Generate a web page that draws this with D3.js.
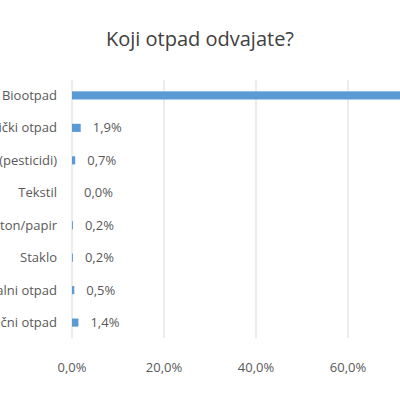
<!DOCTYPE html>
<html>
<head>
<meta charset="utf-8">
<script src="https://cdn.jsdelivr.net/npm/d3@7"></script>
<style>
  body { margin: 0; background: #fff; }
  svg { font-family: "Open Sans", "Liberation Sans", sans-serif; }
</style>
</head>
<body>
<script>
// categories, top to bottom
var categories = ['Biootpad', 'Elektronički otpad', 'Opasni otpad (pesticidi)', 'Tekstil',
                  'Karton/papir', 'Staklo', 'Metalni otpad', 'Plastični otpad'];
var values = [92.3, 1.9, 0.7, 0.0, 0.2, 0.2, 0.5, 1.4];
var ticks = [0, 20, 40, 60];

var svg = d3.select('body').append('svg').attr('width', 400).attr('height', 400);

svg.append('text').attr('x', 200).attr('y', 46).attr('text-anchor', 'middle')
   .attr('font-size', 20).attr('fill', '#404040').text('Koji otpad odvajate?');

// x scale: 0% at 72, 20% at 164
var x = d3.scaleLinear().domain([0, 20]).range([72, 164]);
var y = d3.scaleBand().domain(categories).range([80, 338]).paddingInner(0.75).paddingOuter(0.35);

// gridlines
svg.selectAll('.grid').data([0, 20, 40, 60, 80]).enter().append('line')
   .attr('x1', d => x(d)).attr('x2', d => x(d))
   .attr('y1', 80).attr('y2', 338)
   .attr('stroke', '#d9d9d9').attr('stroke-width', 1);

// tick labels
svg.selectAll('.tick').data(ticks).enter().append('text')
   .attr('x', d => x(d)).attr('y', 372).attr('text-anchor', 'middle')
   .attr('font-size', 13).attr('fill', '#595959')
   .text(d => d.toFixed(1).replace('.', ',') + '%');

// category labels (clipped at left edge as in the reference)
svg.selectAll('.cat').data(categories).enter().append('text')
   .attr('x', 57).attr('y', d => y(d) + y.bandwidth() / 2 + 4.5)
   .attr('text-anchor', 'end').attr('font-size', 13).attr('fill', '#595959')
   .text(d => d);

// bars
svg.selectAll('.bar').data(values).enter().append('rect')
   .attr('x', x(0)).attr('y', (d, i) => y(categories[i]))
   .attr('width', d => x(d) - x(0)).attr('height', y.bandwidth())
   .attr('fill', '#5b9bd5');

// value labels
svg.selectAll('.val').data(values).enter().append('text')
   .filter((d, i) => i > 0)
   .attr('x', d => x(d) + 12).attr('y', (d, i) => y(categories[i + 1]) + y.bandwidth() / 2 + 4.5)
   .attr('font-size', 13).attr('fill', '#595959')
   .text(d => d.toFixed(1).replace('.', ',') + '%');
</script>
</body>
</html>
